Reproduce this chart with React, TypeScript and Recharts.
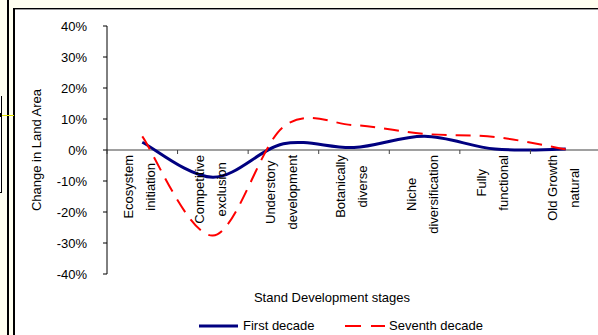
import React from "react";
import {
  LineChart,
  Line,
  XAxis,
  YAxis,
  ReferenceLine,
  ReferenceDot,
  Legend,
  Label,
} from "recharts";

// Stand development stages, each split over two label lines
const stageTop = [
  "Ecosystem",
  "Competitive",
  "Understory",
  "Botanically",
  "Niche",
  "Fully",
  "Old Growth",
];
const stageBottom = [
  "initiation",
  "exclusion",
  "development",
  "diverse",
  "diversification",
  "functional",
  "natural",
];

// Change in land area (%) per stage
const firstDecade = [2.5, -8.8, 2.0, 0.8, 4.4, 0.3, 0.3];
const seventhDecade = [4.4, -27.6, 7.5, 8.0, 5.2, 4.2, 0.2];

const yTicks = [-40, -30, -20, -10, 0, 10, 20, 30, 40];
const stageBounds = [0, 1, 2, 3, 4, 5, 6, 7];

const FONT = "'Liberation Sans', Arial, Helvetica, sans-serif";
const W = 598;
const H = 335;

const data = stageTop.map((s, i) => ({
  pos: i + 0.5,
  top: s,
  bottom: stageBottom[i],
  first: firstDecade[i],
  seventh: seventhDecade[i],
}));

// Smoothed line in the style of office spreadsheet charts (Catmull-Rom bezier)
const smoothCurve = (context: any) => {
  let pts: number[][] = [];
  return {
    areaStart() {},
    areaEnd() {},
    lineStart() {
      pts = [];
    },
    lineEnd() {
      if (!pts.length) return;
      context.moveTo(pts[0][0], pts[0][1]);
      for (let i = 0; i < pts.length - 1; i++) {
        const p0 = pts[i - 1] || pts[i];
        const p1 = pts[i];
        const p2 = pts[i + 1];
        const p3 = pts[i + 2] || pts[i + 1];
        context.bezierCurveTo(
          p1[0] + (p2[0] - p0[0]) / 6,
          p1[1] + (p2[1] - p0[1]) / 6,
          p2[0] - (p3[0] - p1[0]) / 6,
          p2[1] - (p3[1] - p1[1]) / 6,
          p2[0],
          p2[1]
        );
      }
    },
    point(x: number, y: number) {
      pts.push([+x, +y]);
    },
  };
};

let measureCtx: CanvasRenderingContext2D | null = null;
const textWidth = (t: string) => {
  if (!measureCtx && typeof document !== "undefined") {
    measureCtx = document.createElement("canvas").getContext("2d");
  }
  if (measureCtx) {
    measureCtx.font = `13px ${FONT}`;
    return measureCtx.measureText(t).width;
  }
  return t.length * 6.8;
};

const StageLabel = (props: any) => {
  const { cx, cy, top, bottom } = props;
  const longest = Math.max(textWidth(top), textWidth(bottom));
  const midY = cy + 5 + longest / 2;
  const lines = [
    { t: top, dx: -13.3 },
    { t: bottom, dx: 8.6 },
  ];
  return (
    <g>
      {lines.map((l) => (
        <text
          key={l.t}
          transform={`translate(${cx + l.dx},${midY}) rotate(-90)`}
          textAnchor="middle"
          dominantBaseline="central"
          fontSize={13}
          fontFamily={FONT}
          fill="#000"
        >
          {l.t}
        </text>
      ))}
    </g>
  );
};

const BoundTick = (props: any) => {
  const { cx, cy } = props;
  return <line x1={cx} x2={cx} y1={cy} y2={cy + 4} stroke="#404040" strokeWidth={1} />;
};

const LegendContent = () => (
  <svg width={W} height={20} style={{ display: "block" }}>
    <line x1={199} x2={238} y1={10} y2={10} stroke="#000080" strokeWidth={3} />
    <text x={243} y={14} fontSize={13} fontFamily={FONT} fill="#000">
      First decade
    </text>
    <line
      x1={345}
      x2={385}
      y1={10}
      y2={10}
      stroke="#FF0000"
      strokeWidth={2}
      strokeDasharray="16 10"
    />
    <text x={389} y={14} fontSize={13} fontFamily={FONT} fill="#000">
      Seventh decade
    </text>
  </svg>
);

export default function App() {
  return (
    <div
      style={{
        position: "absolute",
        left: 0,
        top: 0,
        width: W,
        height: H,
        overflow: "hidden",
        background: "#fff",
        fontFamily: FONT,
      }}
    >
      {/* surrounding page frame */}
      <div style={{ position: "absolute", left: 0, top: 0, width: W, height: 8, background: "#FFFFF0" }} />
      <div style={{ position: "absolute", left: 0, top: 0, width: 13, height: H, background: "#FFFFF0" }} />
      <div style={{ position: "absolute", left: 7, top: 0, width: 2, height: H, background: "#000" }} />
      <div style={{ position: "absolute", left: 13, top: 8, width: W, height: 1, background: "#000" }} />
      <div style={{ position: "absolute", left: 13, top: 9, width: W, height: 1, background: "#9a9a9a" }} />
      <div style={{ position: "absolute", left: 13, top: 8, width: 1.5, height: H, background: "#000" }} />
      <div
        style={{
          position: "absolute",
          left: 0,
          top: 96,
          width: 1,
          height: 96,
          background: "#fff",
          borderRight: "1px solid #000",
          borderBottom: "1px solid #000",
        }}
      />
      <div style={{ position: "absolute", left: 0, top: 113, width: 2, height: 4, background: "#000" }} />
      <div style={{ position: "absolute", left: 2, top: 115, width: 12, height: 1, background: "#E6E600" }} />

      <div style={{ position: "absolute", left: 0, top: 0 }}>
        <LineChart
          width={W}
          height={H}
          data={data}
          margin={{ top: 26, right: -3, bottom: 0, left: 0 }}
        >
          <XAxis
            type="number"
            dataKey="pos"
            domain={[0, 7]}
            height={61}
            tick={false}
            axisLine={false}
            tickLine={false}
          >
            <Label
              content={(p: any) => (
                <text
                  x={p.viewBox.x + 225}
                  y={p.viewBox.y + 28}
                  textAnchor="middle"
                  fontSize={13}
                  fontFamily={FONT}
                  fill="#000"
                >
                  Stand Development stages
                </text>
              )}
            />
          </XAxis>
          <YAxis
            type="number"
            domain={[-40, 40]}
            ticks={yTicks}
            width={107}
            tickSize={4}
            tickMargin={16}
            tickFormatter={(v: number) => `${v}%`}
            axisLine={{ stroke: "#000", strokeWidth: 1 }}
            tickLine={{ stroke: "#000", strokeWidth: 1 }}
            tick={{ fill: "#000", fontSize: 13, fontFamily: FONT }}
          >
            <Label
              content={(p: any) => {
                const x = p.viewBox.x + 36;
                const y = p.viewBox.y + p.viewBox.height / 2;
                return (
                  <text
                    transform={`translate(${x},${y}) rotate(-90)`}
                    textAnchor="middle"
                    dominantBaseline="central"
                    fontSize={13}
                    fontFamily={FONT}
                    fill="#000"
                  >
                    Change in Land Area
                  </text>
                );
              }}
            />
          </YAxis>
          <ReferenceLine y={0} stroke="#808080" strokeWidth={1.5} />
          {stageBounds.map((b) => (
            <ReferenceDot key={`b${b}`} x={b} y={0} r={0} shape={BoundTick} />
          ))}
          {data.map((d) => (
            <ReferenceDot
              key={d.top}
              x={d.pos}
              y={0}
              r={0}
              shape={(p: any) => <StageLabel {...p} top={d.top} bottom={d.bottom} />}
            />
          ))}
          <Line
            dataKey="first"
            name="First decade"
            type={smoothCurve as any}
            stroke="#000080"
            strokeWidth={3}
            dot={false}
            activeDot={false}
            isAnimationActive={false}
          />
          <Line
            dataKey="seventh"
            name="Seventh decade"
            type={smoothCurve as any}
            stroke="#FF0000"
            strokeWidth={2}
            strokeDasharray="15 9"
            dot={false}
            activeDot={false}
            isAnimationActive={false}
          />
          <Legend
            layout="horizontal"
            verticalAlign="middle"
            align="center"
            wrapperStyle={{ left: 0, top: 316, width: W, height: 20 }}
            content={LegendContent}
          />
        </LineChart>
      </div>
    </div>
  );
}
